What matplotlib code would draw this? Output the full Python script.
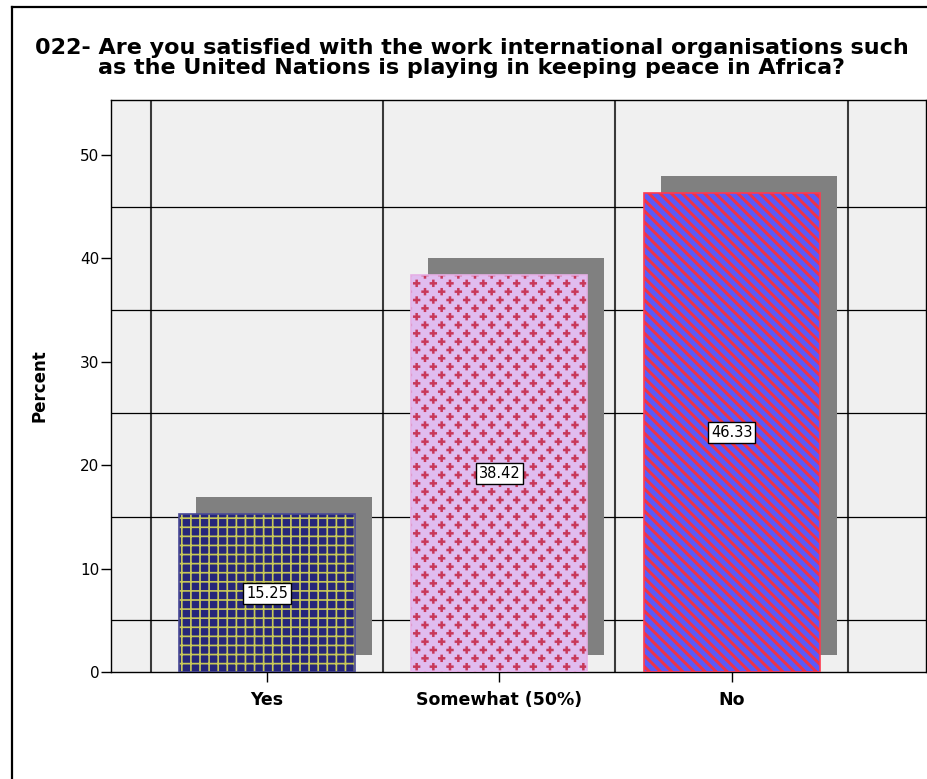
import warnings
warnings.filterwarnings("ignore")
import numpy as np
import matplotlib
matplotlib.use("Agg")
import matplotlib.pyplot as plt
import matplotlib.hatch as mhatch
from matplotlib.path import Path
from matplotlib.lines import Line2D

# ---------------- data ----------------
categories = ["Yes", "Somewhat (50%)", "No"]
percents = [15.25, 38.42, 46.33]
value_labels = ["15.25", "38.42", "46.33"]
y_ticks = [0, 10, 20, 30, 40, 50]
title_lines = ["022- Are you satisfied with the work international organisations such",
               "as the United Nations is playing in keeping peace in Africa?"]
y_label = "Percent"

# ---------------- custom fill patterns (SPSS-like) ----------------
class _PolyHatch(mhatch.HatchPatternBase):
    char = None

    def __init__(self, hatch, density):
        self.polys = self.make_polys() if (self.char and self.char in hatch) else []
        self.num_vertices = sum(len(p) + 1 for p in self.polys)

    def make_polys(self):
        return []

    def set_vertices_and_codes(self, vertices, codes):
        i = 0
        for p in self.polys:
            n = len(p)
            vertices[i:i + n] = p
            vertices[i + n] = p[0]
            codes[i] = Path.MOVETO
            codes[i + 1:i + n] = Path.LINETO
            codes[i + n] = Path.CLOSEPOLY
            i += n + 1


class GridHatch(_PolyHatch):
    char = "g"

    def make_polys(self):
        n, w = 11, 0.0085
        polys = []
        for k in range(n + 1):
            t = k / n
            polys.append(np.array([(0, t - w), (1, t - w), (1, t + w), (0, t + w)]))
            polys.append(np.array([(t - w, 0), (t + w, 0), (t + w, 1), (t - w, 1)]))
        return polys


class PlusHatch(_PolyHatch):
    char = "p"

    def make_polys(self):
        a, b = 0.037, 0.0125
        base = np.array([(b, -a), (b, -b), (a, -b), (a, b), (b, b), (b, a),
                         (-b, a), (-b, b), (-a, b), (-a, -b), (-b, -b), (-b, -a)])
        polys = []
        rows, cols = 12, 6
        for r in range(rows + 1):
            y = r / rows
            xs = [c / cols for c in range(cols + 1)] if r % 2 == 0 else \
                 [(c + 0.5) / cols for c in range(cols)]
            for x in xs:
                polys.append(base + np.array([x, y]))
        return polys


class StripeHatch(_PolyHatch):
    char = "q"

    def make_polys(self):
        n, d = 9, 0.021
        x0, x1 = -0.1, 1.1
        polys = []
        for k in range(-2, 2 * n + 3):
            c = k / n
            polys.append(np.array([(x0, c - d - x0), (x1, c - d - x1),
                                   (x1, c + d - x1), (x0, c + d - x0)]))
        return polys


mhatch._hatch_types.extend([GridHatch, PlusHatch, StripeHatch])
plt.rcParams["hatch.linewidth"] = 0.01
plt.rcParams["font.family"] = ["DejaVu Sans"]

# ---------------- figure ----------------
W, H = 927, 779
fig = plt.figure(figsize=(W / 100, H / 100), dpi=100, facecolor="white")
ax = fig.add_axes([111 / W, (H - 672) / H, (926 - 111) / W, (672 - 100) / H])
ax.set_facecolor("#f0f0f0")

x = np.arange(len(categories))
bw = 0.758
dx, dy = 0.073, 1.65

fills = ["#26267a", "#e0bcef", "#5a5af8"]
pattern_cols = ["#c8c858", "#c8385a", "#ee3348"]
edge_cols = ["#4a4a96", "#e6b0e6", "#ff3a50"]
hatches = ["g", "p", "q"]

# shadows
ax.bar(x + dx, percents, width=bw, bottom=dy, color="#808080", linewidth=0, zorder=1)
# patterned bars
for i in range(len(categories)):
    ax.bar(x[i], percents[i], width=bw, facecolor=fills[i], edgecolor=pattern_cols[i],
           hatch=hatches[i], linewidth=0, zorder=2)
ax.bar(x, percents, width=bw, facecolor="none", edgecolor=edge_cols, linewidth=1.2, zorder=3)

for i in range(len(categories)):
    ax.text(x[i], percents[i] / 2, value_labels[i], ha="center", va="center", fontsize=10.5,
            zorder=5, bbox=dict(boxstyle="square,pad=0.2", fc="white", ec="black", lw=1))

ax.set_xlim(-0.672, 2.837)
ax.set_ylim(0, 55.3)
ax.set_xticks(x)
ax.set_xticklabels(categories, fontsize=12.5, fontweight="bold")
ax.set_yticks(y_ticks)
ax.set_yticklabels([str(v) for v in y_ticks], fontsize=11)
ax.set_xticks([-0.5, 0.5, 1.5, 2.5], minor=True)
ax.set_yticks([5, 15, 25, 35, 45], minor=True)
ax.tick_params(axis="both", which="minor", length=0)
ax.tick_params(axis="y", which="major", length=7, width=1, pad=1.5)
ax.tick_params(axis="x", which="major", length=7, width=1, pad=7)
ax.set_axisbelow(True)
ax.grid(which="minor", axis="y", color="black", linewidth=0.9)
ax.grid(which="minor", axis="x", color="#3a3a3a", linewidth=1.5)
ax.grid(which="major", visible=False)
for s in ax.spines.values():
    s.set_color("black")
    s.set_linewidth(1.0)

ax.set_ylabel(y_label, fontsize=12, fontweight="bold")
ax.yaxis.set_label_coords(-(111 - 48) / (926 - 111), 0.5)

fig.text(472 / W, 1 - 54 / H, title_lines[0], ha="center", va="baseline",
         fontsize=16, fontweight="bold")
fig.text(472 / W, 1 - 74 / H, title_lines[1], ha="center", va="baseline",
         fontsize=16, fontweight="bold")

# outer frame of the chart
fig.add_artist(Line2D([12 / W, 12 / W], [0, 1 - 7 / H], color="black", lw=1.6,
                      transform=fig.transFigure))
fig.add_artist(Line2D([12 / W, 1], [1 - 7 / H, 1 - 7 / H], color="black", lw=1.6,
                      transform=fig.transFigure))

fig.savefig("out.png", dpi=100, facecolor="white")
